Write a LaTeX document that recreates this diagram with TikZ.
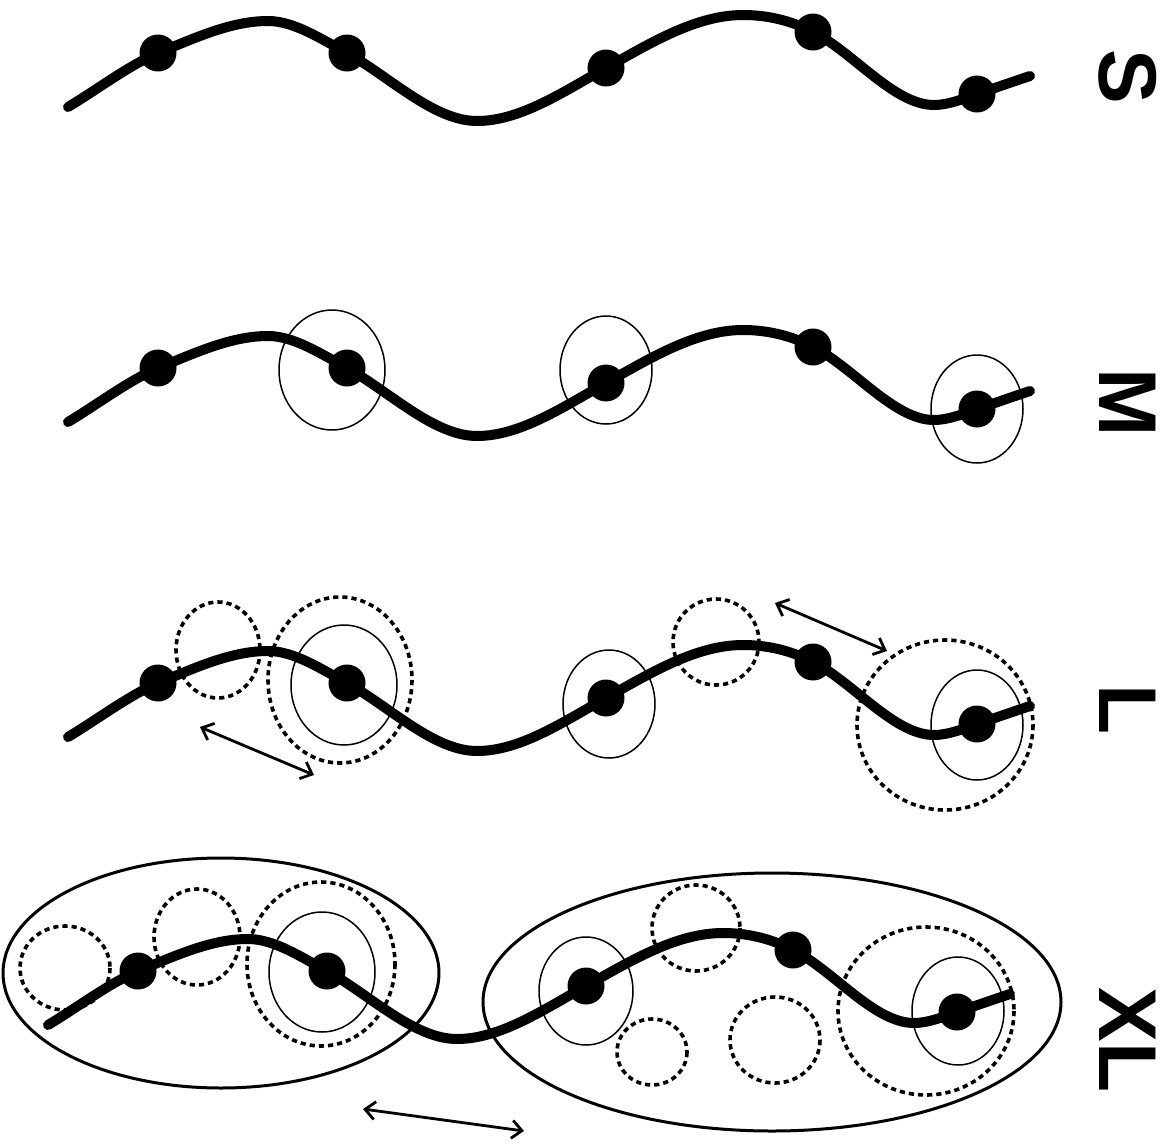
\documentclass[tikz,border=0pt]{standalone}
\usepackage{fontspec}
\setmainfont{Liberation Sans}
\usetikzlibrary{arrows.meta}

\begin{document}
\begin{tikzpicture}[x=0.5pt, y=-0.5pt,
      perla/.style={circle, fill=black, inner sep=0pt, minimum size=18.5pt},
      cadena/.style={line width=5pt, line cap=round},
      anillo/.style={draw, line width=0.75pt},
      punteado/.style={draw, line width=1.8pt, dash pattern=on 2.6pt off 2pt},
      grupo/.style={draw, line width=1.5pt},
      flecha/.style={{Straight Barb[length=5pt,width=9pt]}-{Straight Barb[length=5pt,width=9pt]}, line width=1.4pt},
      talla/.style={rotate=-90, inner sep=0pt, font=\bfseries\fontsize{41}{41}\selectfont}]

    \useasboundingbox (0,0) rectangle (1168,1146);

    % la misma cadena en las cuatro filas
    \foreach \r/\dx/\dy in {s/0/0, m/0/315, l/0/630, xl/-20/918} {
      \begin{scope}[shift={(\dx,\dy)}]
        \node[perla] (b1\r) at (158,53) {};
        \node[perla] (b2\r) at (347,53) {};
        \node[perla] (b3\r) at (606,68) {};
        \node[perla] (b4\r) at (813,32) {};
        \node[perla] (b5\r) at (977,94) {};
        \draw[cadena] (68,107) .. controls (98,89) and (128,66) .. (b1\r.center)
          .. controls (195,38) and (231,21) .. (268,21)
          .. controls (294,21) and (321,39) .. (b2\r.center)
          .. controls (390,77) and (434,121) .. (477,121)
          .. controls (520,121) and (563,92) .. (b3\r.center)
          .. controls (652,42) and (697,15) .. (743,15)
          .. controls (766,15) and (790,20) .. (b4\r.center)
          .. controls (853,52) and (894,105) .. (934,105)
          .. controls (948,105) and (963,99) .. (b5\r.center)
          .. controls (995,88) and (1012,82) .. (1030,76);
      \end{scope}
    }

    % M
    \draw[anillo] (332,370) ellipse [x radius=53, y radius=60];
    \draw[anillo] (606,370) ellipse [x radius=46, y radius=54];
    \draw[anillo] (977,409) ellipse [x radius=46, y radius=54];

    % L
    \draw[punteado] (218,650) ellipse [x radius=42, y radius=48];
    \draw[punteado] (340,680) ellipse [x radius=72, y radius=83];
    \draw[anillo] (344,685) ellipse [x radius=53, y radius=60];
    \draw[anillo] (609,704) ellipse [x radius=46, y radius=54];
    \draw[punteado] (716,642) ellipse [x radius=43, y radius=43];
    \draw[punteado] (945,725) ellipse [x radius=88, y radius=85];
    \draw[anillo] (977,725) ellipse [x radius=46, y radius=55];
    \coordinate (f1a) at (200,727);
    \coordinate (f1b) at (314,775);
    \coordinate (f2a) at (775,603);
    \coordinate (f2b) at (887,651);
    \draw[flecha] (f1a) -- (f1b);
    \draw[flecha] (f2a) -- (f2b);

    % XL
    \draw[grupo] (221,973) ellipse [x radius=218, y radius=115];
    \draw[grupo] (772,1002) ellipse [x radius=289, y radius=129];
    \draw[punteado] (65,968) ellipse [x radius=45, y radius=42];
    \draw[punteado] (197,937) ellipse [x radius=43, y radius=48];
    \draw[punteado] (321,964) ellipse [x radius=74, y radius=82];
    \draw[anillo] (322,972) ellipse [x radius=53, y radius=60];
    \draw[anillo] (586,991) ellipse [x radius=47, y radius=54];
    \draw[punteado] (696,928) ellipse [x radius=44, y radius=43];
    \draw[punteado] (652,1052) ellipse [x radius=35, y radius=33];
    \draw[punteado] (775,1040) ellipse [x radius=45, y radius=43];
    \draw[punteado] (926,1011) ellipse [x radius=88, y radius=84];
    \draw[anillo] (958,1011) ellipse [x radius=46, y radius=54];
    \coordinate (f3a) at (363,1109);
    \coordinate (f3b) at (524,1131);
    \draw[flecha] (f3a) -- (f3b);

    \node[talla] (ts) at (1128,77) {S};
    \node[talla] (tm) at (1128,403) {M};
    \node[talla] (tl) at (1128,710) {L};
    \node[talla] (txl) at (1128,1040) {XL};
  \end{tikzpicture}
\end{document}
